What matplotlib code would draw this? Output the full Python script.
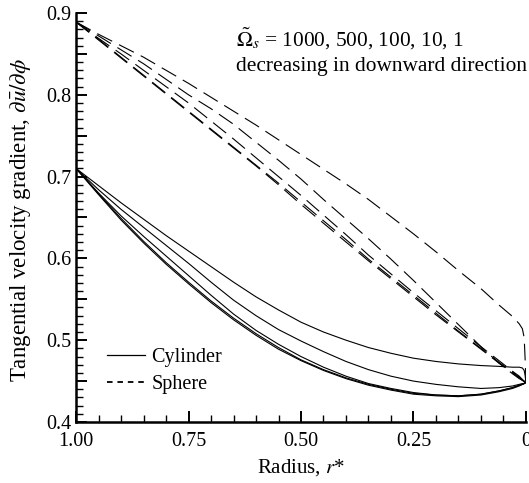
import numpy as np
import matplotlib.pyplot as plt
from matplotlib.lines import Line2D
from matplotlib.ticker import MultipleLocator, FixedLocator, FuncFormatter

plt.rcParams['font.family'] = ['Liberation Serif', 'DejaVu Serif']
plt.rcParams['mathtext.fontset'] = 'stix'
plt.rcParams['lines.scale_dashes'] = False

# radial position r* (same grid for every curve)
r = [1.0, 0.95, 0.9, 0.85, 0.8, 0.75, 0.7, 0.65, 0.6, 0.55, 0.5, 0.45, 0.4,
     0.35, 0.3, 0.25, 0.2, 0.15, 0.1, 0.06, 0.03, 0.015, 0.008, 0.004, 0.002, 0.0]

omega = [1000, 500, 100, 10, 1]

# cylinder, solid lines
cyl_1000 = [0.710, 0.689, 0.668, 0.648, 0.628, 0.609, 0.590, 0.571, 0.553, 0.537, 0.522, 0.510, 0.500,
            0.491, 0.484, 0.478, 0.474, 0.471, 0.469, 0.468, 0.467, 0.467, 0.466, 0.463, 0.457, 0.448]
cyl_500 = [0.710, 0.684, 0.660, 0.638, 0.616, 0.594, 0.571, 0.549, 0.530, 0.513, 0.499, 0.486, 0.474,
           0.464, 0.456, 0.450, 0.446, 0.443, 0.441, 0.442, 0.444, 0.446, 0.447, 0.447, 0.448, 0.448]
cyl_100 = [0.710, 0.680, 0.652, 0.627, 0.603, 0.579, 0.555, 0.532, 0.512, 0.495, 0.480, 0.467, 0.456,
           0.447, 0.441, 0.436, 0.433, 0.432, 0.434, 0.438, 0.442, 0.445, 0.446, 0.447, 0.448, 0.448]
cyl_10 = [0.710, 0.679, 0.649, 0.621, 0.595, 0.571, 0.548, 0.527, 0.508, 0.491, 0.476, 0.464, 0.454,
          0.446, 0.440, 0.435, 0.433, 0.432, 0.434, 0.438, 0.442, 0.445, 0.446, 0.447, 0.448, 0.448]
cyl_1 = [0.710, 0.678, 0.647, 0.619, 0.593, 0.569, 0.546, 0.525, 0.506, 0.489, 0.475, 0.463, 0.453,
         0.445, 0.439, 0.434, 0.432, 0.431, 0.433, 0.437, 0.441, 0.444, 0.446, 0.447, 0.448, 0.448]

# sphere, dashed lines
sph_1000 = [0.889, 0.874, 0.860, 0.846, 0.830, 0.814, 0.797, 0.780, 0.763, 0.745, 0.727, 0.709, 0.691,
            0.672, 0.651, 0.630, 0.608, 0.585, 0.563, 0.543, 0.529, 0.520, 0.514, 0.503, 0.478, 0.449]
sph_500 = [0.889, 0.872, 0.855, 0.838, 0.819, 0.800, 0.783, 0.764, 0.742, 0.720, 0.697, 0.672, 0.648,
           0.624, 0.599, 0.573, 0.546, 0.519, 0.492, 0.472, 0.459, 0.453, 0.451, 0.450, 0.449, 0.448]
sph_100 = [0.889, 0.869, 0.850, 0.830, 0.810, 0.790, 0.768, 0.746, 0.723, 0.700, 0.677, 0.653, 0.629,
           0.604, 0.581, 0.558, 0.536, 0.514, 0.492, 0.475, 0.462, 0.456, 0.452, 0.450, 0.449, 0.448]
sph_10 = [0.889, 0.868, 0.846, 0.824, 0.802, 0.780, 0.758, 0.736, 0.714, 0.692, 0.669, 0.646, 0.623,
          0.599, 0.577, 0.555, 0.533, 0.511, 0.490, 0.473, 0.461, 0.455, 0.451, 0.450, 0.449, 0.448]
sph_1 = [0.889, 0.867, 0.845, 0.823, 0.801, 0.779, 0.757, 0.735, 0.713, 0.690, 0.666, 0.643, 0.620,
         0.597, 0.575, 0.553, 0.531, 0.510, 0.489, 0.472, 0.460, 0.454, 0.451, 0.449, 0.449, 0.448]

cylinder = [cyl_1000, cyl_500, cyl_100, cyl_10, cyl_1]
sphere = [sph_1000, sph_500, sph_100, sph_10, sph_1]

fig = plt.figure(figsize=(5.29, 4.83), dpi=100)
ax = fig.add_axes([0.1437, 0.1263, 0.8506, 0.8468])

for i in range(len(omega)):
    ax.plot(r, cylinder[i], color='black', lw=0.8)
    ax.plot(r, sphere[i], color='black', lw=0.8, dashes=(12, 5.5))

ax.set_xlim(1.0, 0.0)
ax.set_ylim(0.4, 0.9)

ax.xaxis.set_major_locator(FixedLocator([1.0, 0.75, 0.5, 0.25, 0.0]))
ax.set_xticklabels(['1.00', '0.75', '0.50', '0.25', '0'])
ax.xaxis.set_minor_locator(MultipleLocator(0.05))
ax.yaxis.set_major_locator(MultipleLocator(0.05))
ax.yaxis.set_major_formatter(FuncFormatter(
    lambda v, p: f'{v:.1f}' if abs(v * 10 - round(v * 10)) < 1e-6 else ''))
ax.yaxis.set_minor_locator(MultipleLocator(0.01))

ax.tick_params(which='both', direction='in', top=False, right=False, labelsize=14.5)
ax.tick_params(which='major', length=8, width=1.4)
ax.tick_params(which='minor', length=5, width=1.0)
ax.tick_params(axis='x', pad=7)
ax.tick_params(axis='y', pad=3)

for side in ['top', 'right']:
    ax.spines[side].set_visible(False)
for side in ['left', 'bottom']:
    ax.spines[side].set_linewidth(1.8)

ax.set_xlabel(r'Radius, $r$*', fontsize=15)
ax.set_ylabel(r'Tangential velocity gradient, $\partial\bar{u}/\partial\phi$', fontsize=16.5)
ax.yaxis.set_label_coords(-0.095, 0.495)
ax.xaxis.set_label_coords(0.5, -0.086)

handles = [Line2D([], [], color='black', lw=0.9),
           Line2D([], [], color='black', lw=1.3, dashes=(4, 3.5))]
ax.legend(handles, ['Cylinder', 'Sphere'], loc='upper left', bbox_to_anchor=(0.069, 0.18),
          frameon=False, fontsize=14.5, handlelength=1.9, handletextpad=0.3,
          labelspacing=0.35, borderpad=0, borderaxespad=0)

fig.text(236 / 529, 0.903, r'$\tilde{\mathit{\Omega}}_{s}$ = 1000, 500, 100, 10, 1', fontsize=15.4)
fig.text(236 / 529, 0.853, 'decreasing in downward direction', fontsize=15.4)

fig.savefig('out.png', dpi=100)
